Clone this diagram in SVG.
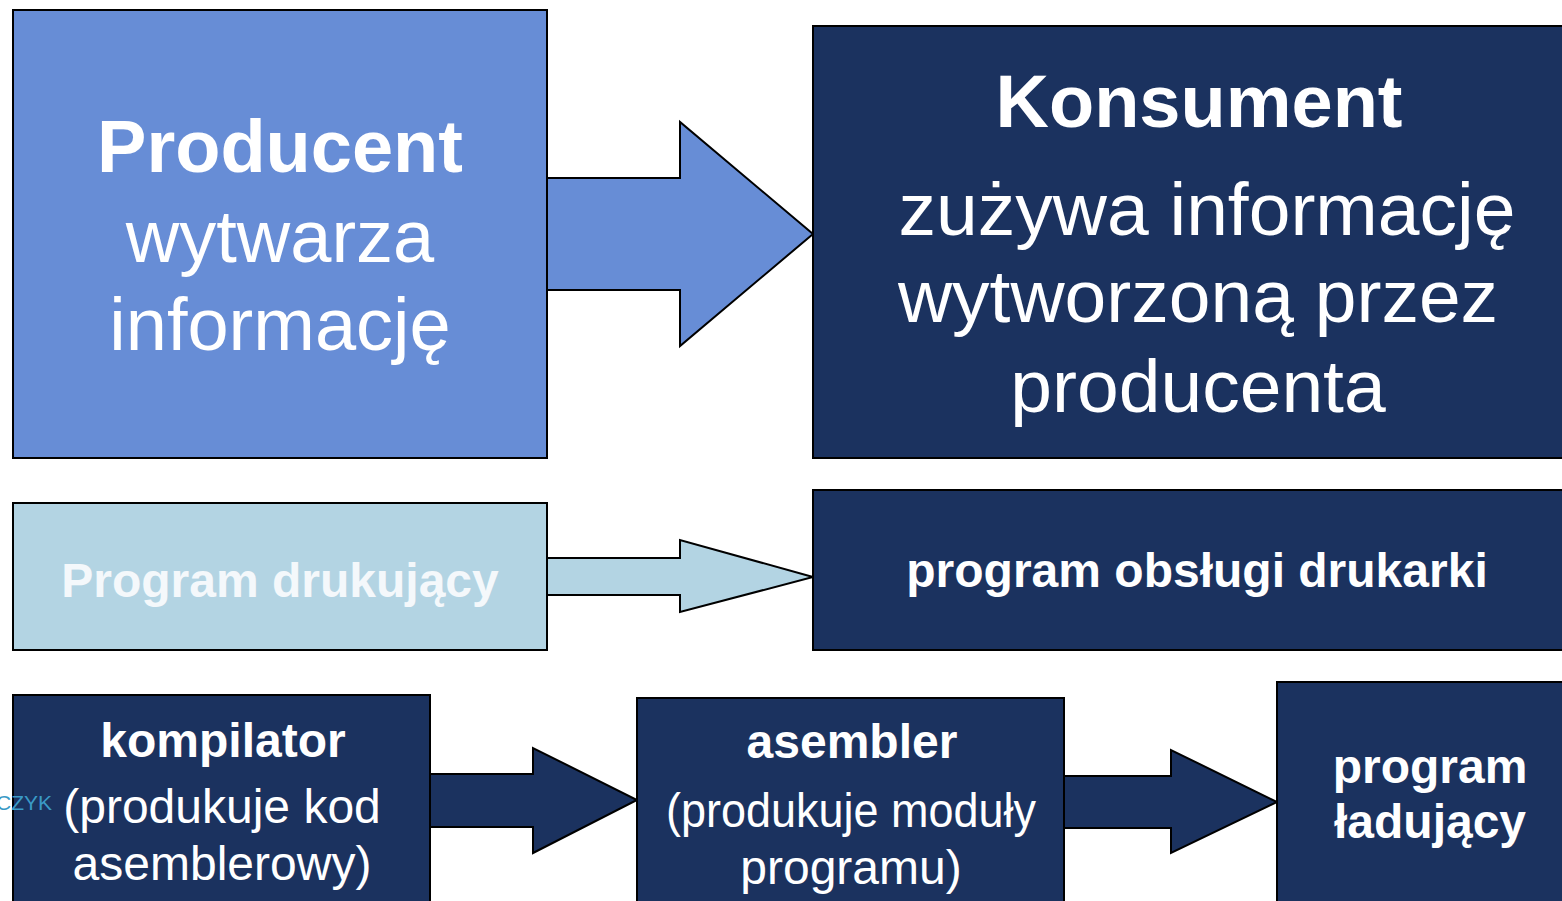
<svg xmlns="http://www.w3.org/2000/svg" width="1562" height="901" viewBox="0 0 1562 901">
<style>
.box{stroke:#000;stroke-width:2}
.mid{fill:#678DD6}
.dark{fill:#1B325F}
.light{fill:#B3D4E3}
text{font-family:"Liberation Sans",Arial,sans-serif;fill:#fff;text-anchor:middle}
.b{font-weight:bold}
</style>
<rect width="1562" height="901" fill="#fff"/>
<g id="connectors">
<path class="box mid" d="M546,178 H680 V122 L813,234 L680,346 V290 H546 Z"/>
<path class="box light" d="M546,558 H680 V540 L813,577 L680,612 V595 H546 Z"/>
<path class="box dark" d="M429,774 H533 V748 L637,800 L533,853 V827 H429 Z"/>
<path class="box dark" d="M1063,776 H1171 V750 L1277,802 L1171,853 V828 H1063 Z"/>
</g>
<g id="producent">
<rect class="box mid" x="13" y="10" width="534" height="448"/>
<text class="b" x="280" y="172" font-size="74">Producent</text>
<text x="280" y="262" font-size="74">wytwarza</text>
<text x="280" y="350" font-size="74">informację</text>
</g>
<g id="konsument">
<rect class="box dark" x="813" y="26" width="760" height="432"/>
<text class="b" x="1199" y="127" font-size="74">Konsument</text>
<text x="1207" y="235" font-size="75">zużywa informację</text>
<text x="1198" y="322" font-size="75">wytworzoną przez</text>
<text x="1198" y="412" font-size="75">producenta</text>
</g>
<g id="program-drukujacy">
<rect class="box light" x="13" y="503" width="534" height="147"/>
<text class="b" x="280" y="597" font-size="48" style="fill:#F4F8FB">Program drukujący</text>
</g>
<g id="program-obslugi-drukarki">
<rect class="box dark" x="813" y="490" width="760" height="160"/>
<text class="b" x="1197" y="587" font-size="48">program obsługi drukarki</text>
</g>
<g id="kompilator">
<rect class="box dark" x="13" y="695" width="417" height="220"/>
<text class="b" x="223" y="757" font-size="48">kompilator</text>
<text x="222" y="823" font-size="48">(produkuje kod</text>
<text x="222" y="880" font-size="48">asemblerowy)</text>
<text x="-4" y="810" font-size="21" style="fill:#3A9AC6;text-anchor:start">CZYK</text>
</g>
<g id="asembler">
<rect class="box dark" x="637" y="698" width="427" height="220"/>
<text class="b" x="852" y="758" font-size="48">asembler</text>
<text x="851" y="827" font-size="48" textLength="370" lengthAdjust="spacingAndGlyphs">(produkuje moduły</text>
<text x="851" y="884" font-size="48">programu)</text>
</g>
<g id="program-ladujacy">
<rect class="box dark" x="1277" y="682" width="300" height="236"/>
<text class="b" x="1430" y="783" font-size="48">program</text>
<text class="b" x="1430" y="838" font-size="48">ładujący</text>
</g>
</svg>
